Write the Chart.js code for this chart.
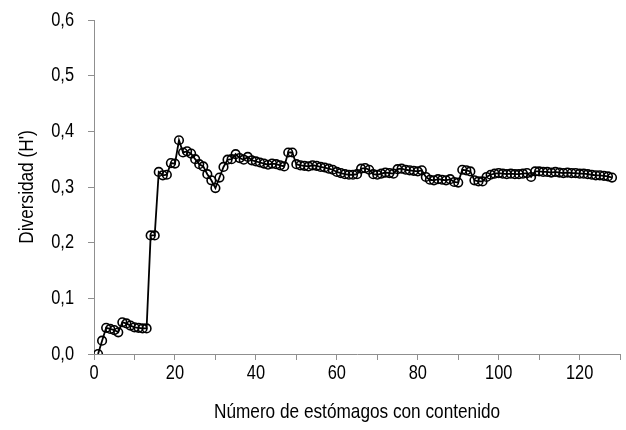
<!DOCTYPE html>
<html>
<head>
<meta charset="utf-8">
<script src="https://cdn.jsdelivr.net/npm/chart.js@4/dist/chart.umd.min.js"></script>
<style>
html,body{margin:0;padding:0;background:#fff;}
#wrap{width:626px;height:430px;}
</style>
</head>
<body>
<div id="wrap"><canvas id="c"></canvas></div>
<script>
const stomachs = Array.from({length:128},(_,i)=>i+1);
const diversity = [
0.000,0.024,0.047,0.045,0.043,0.039,0.057,0.055,0.051,0.048,
0.047,0.046,0.046,0.213,0.213,0.327,0.321,0.322,0.343,0.342,
0.384,0.362,0.364,0.360,0.350,0.341,0.337,0.323,0.312,0.298,
0.317,0.336,0.349,0.350,0.359,0.352,0.349,0.354,0.348,0.346,
0.344,0.342,0.340,0.342,0.341,0.339,0.337,0.362,0.362,0.341,
0.339,0.338,0.337,0.339,0.338,0.336,0.335,0.333,0.331,0.327,
0.325,0.323,0.322,0.322,0.323,0.333,0.334,0.331,0.323,0.322,
0.324,0.326,0.325,0.324,0.332,0.333,0.331,0.330,0.329,0.328,
0.330,0.318,0.313,0.312,0.314,0.313,0.312,0.314,0.309,0.308,
0.331,0.330,0.328,0.312,0.310,0.310,0.318,0.322,0.324,0.325,
0.324,0.323,0.324,0.323,0.323,0.324,0.325,0.318,0.328,0.328,
0.327,0.327,0.326,0.327,0.326,0.325,0.326,0.325,0.325,0.324,
0.324,0.323,0.322,0.321,0.321,0.320,0.319,0.317
];
const xTitle = 'Número de estómagos con contenido';
const yTitle = "Diversidad (H')";

const FONT = "'Liberation Sans',Arial,sans-serif";
Chart.defaults.font.family = FONT;
Chart.defaults.color = '#000';

// condensed (narrow) text rendering, as in the reference
const canvas = document.getElementById('c');
const ctx2 = canvas.getContext('2d');
const origFill = ctx2.fillText.bind(ctx2);
const SX = 0.82;
ctx2.fillText = function(t, x, y, mw) {
  ctx2.save();
  ctx2.translate(x, y);
  ctx2.scale(SX, 1);
  if (mw === undefined || mw === null) origFill(t, 0, 0);
  else origFill(t, 0, 0, mw / SX);
  ctx2.restore();
};

new Chart(canvas, {
  type: 'line',
  data: {
    datasets: [{
      data: stomachs.map((x,i)=>({x:x,y:diversity[i]})),
      borderColor: '#000',
      borderWidth: 1.8,
      pointRadius: 4.3,
      pointBorderWidth: 1.6,
      pointBackgroundColor: 'rgba(255,255,255,0)',
      pointBorderColor: '#000',
      tension: 0
    }]
  },
  options: {
    responsive: true,
    maintainAspectRatio: false,
    animation: false,
    layout: {padding: {top: 20, right: 4, left: 0, bottom: 0}},
    plugins: {legend: {display: false}, tooltip: {enabled: false}},
    scales: {
      x: {
        type: 'linear', min: 0, max: 130,
        afterFit: s => { s.height = 76; s.paddingLeft = 0; s.paddingRight = 0; },
        grid: {drawOnChartArea: false, color: '#8f8f8f', tickLength: 6, lineWidth: 1},
        border: {color: '#8f8f8f', width: 1},
        ticks: {stepSize: 10, autoSkip: false, maxRotation: 0, font: {size: 20},
          padding: 1,
          callback: v => (v % 20 === 0 && v <= 120) ? String(v) : ''},
        title: {display: true, text: xTitle, font: {size: 21}, padding: {top: 5, bottom: 5}}
      },
      y: {
        min: 0, max: 0.6,
        afterFit: s => { s.width = 94; s.paddingTop = 0; s.paddingBottom = 0; },
        grid: {drawOnChartArea: false, color: '#8f8f8f', tickLength: 6, lineWidth: 1},
        border: {color: '#8f8f8f', width: 1},
        ticks: {stepSize: 0.1, font: {size: 20}, padding: 14,
          callback: v => v.toFixed(1).replace('.', ',')},
        title: {display: true, text: yTitle, font: {size: 21}, padding: {top: 15, bottom: 15}}
      }
    }
  }
});
</script>
</body>
</html>
